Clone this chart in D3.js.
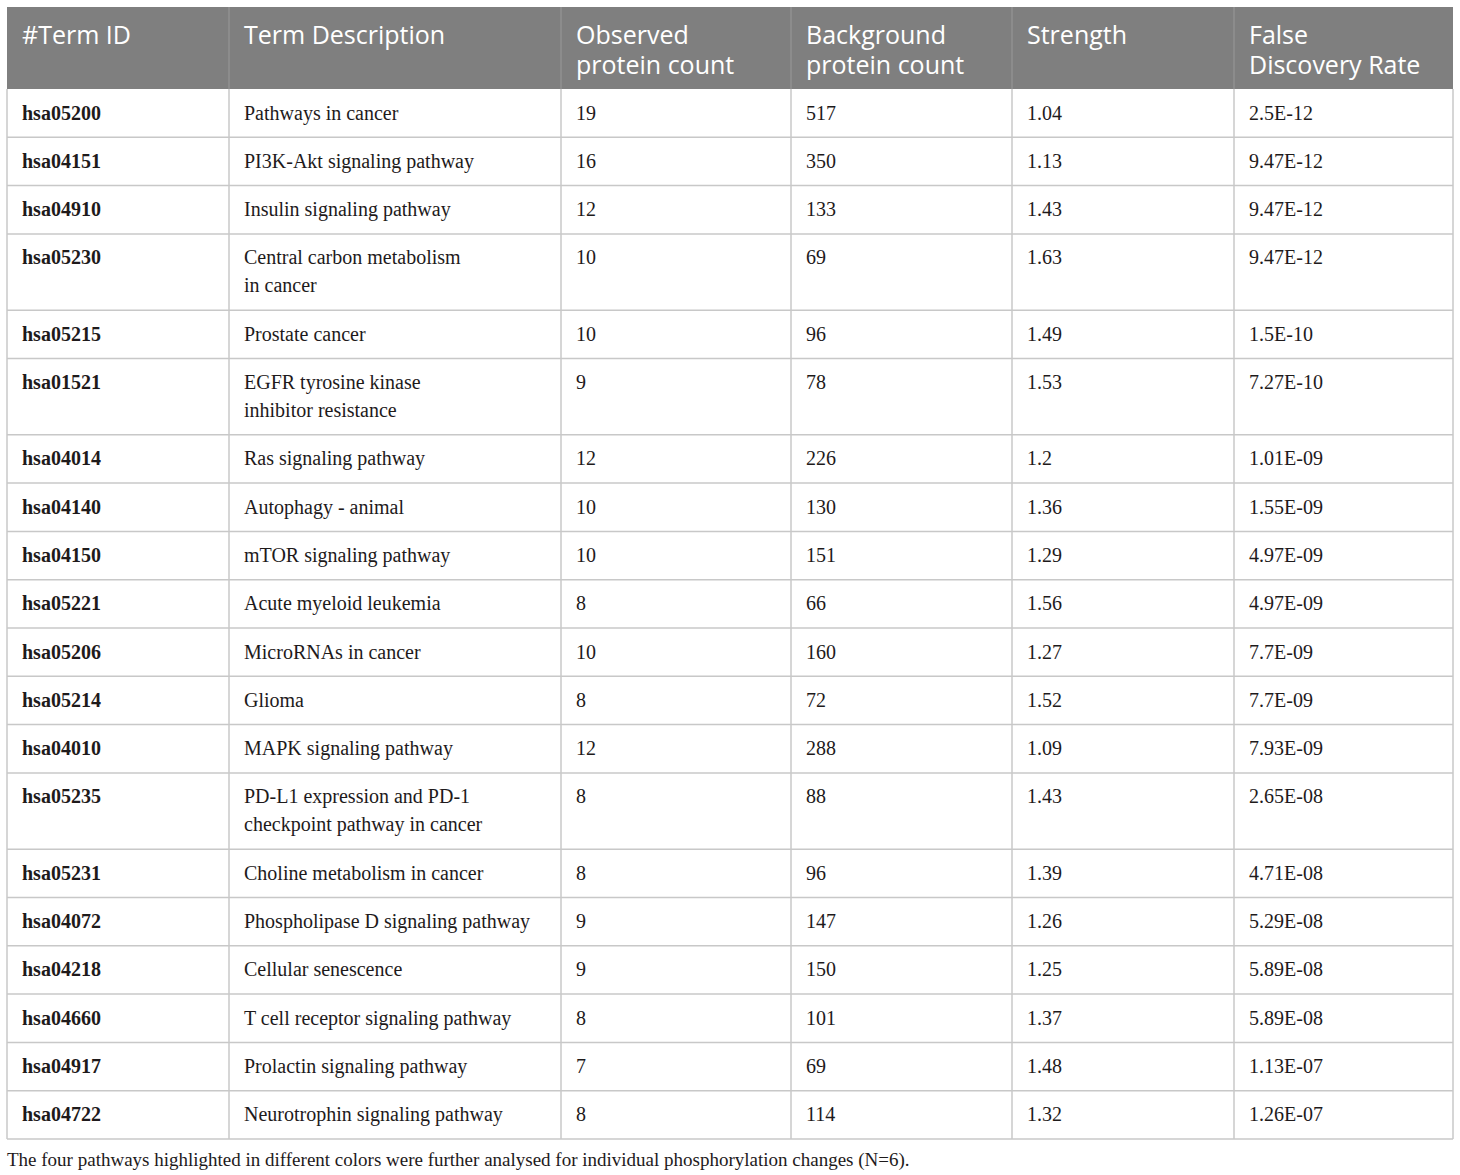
<!DOCTYPE html>
<html>
<head>
<meta charset="utf-8">
<script src="https://cdn.jsdelivr.net/npm/d3@7"></script>
<style>
  body { margin: 0; background: #fff; }
</style>
</head>
<body>
<div id="chart"></div>
<script>
/* table contents */
var headers = [
    ["#Term ID"],
    ["Term Description"],
    ["Observed", "protein count"],
    ["Background", "protein count"],
    ["Strength"],
    ["False", "Discovery Rate"]
];
var termIds = ["hsa05200","hsa04151","hsa04910","hsa05230","hsa05215","hsa01521","hsa04014","hsa04140","hsa04150","hsa05221",
               "hsa05206","hsa05214","hsa04010","hsa05235","hsa05231","hsa04072","hsa04218","hsa04660","hsa04917","hsa04722"];
var descriptions = [
    ["Pathways in cancer"],
    ["PI3K-Akt signaling pathway"],
    ["Insulin signaling pathway"],
    ["Central carbon metabolism", "in cancer"],
    ["Prostate cancer"],
    ["EGFR tyrosine kinase", "inhibitor resistance"],
    ["Ras signaling pathway"],
    ["Autophagy - animal"],
    ["mTOR signaling pathway"],
    ["Acute myeloid leukemia"],
    ["MicroRNAs in cancer"],
    ["Glioma"],
    ["MAPK signaling pathway"],
    ["PD-L1 expression and PD-1", "checkpoint pathway in cancer"],
    ["Choline metabolism in cancer"],
    ["Phospholipase D signaling pathway"],
    ["Cellular senescence"],
    ["T cell receptor signaling pathway"],
    ["Prolactin signaling pathway"],
    ["Neurotrophin signaling pathway"]
];
var observed = [19,16,12,10,10,9,12,10,10,8,10,8,12,8,8,9,9,8,7,8];
var background = [517,350,133,69,96,78,226,130,151,66,160,72,288,88,96,147,150,101,69,114];
var strength = ["1.04","1.13","1.43","1.63","1.49","1.53","1.2","1.36","1.29","1.56",
                "1.27","1.52","1.09","1.43","1.39","1.26","1.25","1.37","1.48","1.32"];
var fdr = ["2.5E-12","9.47E-12","9.47E-12","9.47E-12","1.5E-10","7.27E-10","1.01E-09","1.55E-09","4.97E-09","4.97E-09",
           "7.7E-09","7.7E-09","7.93E-09","2.65E-08","4.71E-08","5.29E-08","5.89E-08","5.89E-08","1.13E-07","1.26E-07"];
var caption = "The four pathways highlighted in different colors were further analysed for individual phosphorylation changes (N=6).";

/* layout */
var width = 1460, height = 1175;
var colEdges = [7, 229, 561, 791, 1012, 1234, 1453];
var tableTop = 7, headerHeight = 82;
var lineHeight = 28, rowPad = 20.3;
var padX = 15;
var serif = "'Liberation Serif', 'Times New Roman', serif";

var svg = d3.select("#chart")
    .append("svg")
    .attr("width", width)
    .attr("height", height);

/* build rows */
var rows = termIds.map(function (id, i) {
    return {
        id: id,
        cells: [[id], descriptions[i], [String(observed[i])], [String(background[i])], [strength[i]], [fdr[i]]],
        lines: descriptions[i].length
    };
});

var rowHeights = rows.map(function (r) { return rowPad + lineHeight * r.lines; });
var rowTops = [0].concat(Array.from(d3.cumsum(rowHeights)));
var bodyTop = tableTop + headerHeight;
var tableBottom = bodyTop + rowTops[rows.length];

var y = d3.scaleLinear().domain([0, rowTops[rows.length]]).range([bodyTop, tableBottom]);

/* header */
var head = svg.append("g").attr("class", "header");
head.append("rect")
    .attr("x", colEdges[0])
    .attr("y", tableTop)
    .attr("width", colEdges[colEdges.length - 1] - colEdges[0])
    .attr("height", headerHeight)
    .attr("fill", "#7f7f7f");

/* one text per header line */
headers.forEach(function (lines, i) {
    head.selectAll("text.h" + i)
        .data(lines)
        .enter().append("text")
        .attr("class", "h" + i)
        .attr("x", colEdges[i] + padX)
        .attr("y", function (t, j) { return tableTop + 26.5 + j * 30; })
        .attr("dominant-baseline", "central")
        .attr("font-family", "'Open Sans', sans-serif")
        .attr("font-size", 25)
        .attr("fill", "#fff")
        .text(function (t) { return t; });
});

/* body rows */
var body = svg.append("g").attr("class", "body");
var rowG = body.selectAll("g.row")
    .data(rows)
    .enter().append("g")
    .attr("class", "row");

rowG.each(function (r, ri) {
    var g = d3.select(this);
    r.cells.forEach(function (lines, ci) {
        var t = g.append("text")
            .attr("font-family", serif)
            .attr("font-size", 20)
            .attr("font-weight", ci === 0 ? "bold" : "normal")
            .attr("fill", "#1e1a1b");
        t.selectAll("tspan")
            .data(lines)
            .enter().append("tspan")
            .attr("x", colEdges[ci] + padX)
            .attr("y", function (l, j) { return y(rowTops[ri]) + 23.5 + j * lineHeight; })
            .attr("dominant-baseline", "central")
            .text(function (l) { return l; });
    });
});

/* grid lines */
var grid = svg.append("g").attr("class", "grid");
grid.selectAll("line.h")
    .data(rowTops.slice(1))
    .enter().append("line")
    .attr("x1", colEdges[0])
    .attr("x2", colEdges[colEdges.length - 1])
    .attr("y1", function (d) { return y(d); })
    .attr("y2", function (d) { return y(d); })
    .attr("stroke", "#c8c8c8")
    .attr("stroke-width", 1.5);

grid.selectAll("line.v")
    .data(colEdges)
    .enter().append("line")
    .attr("x1", function (d) { return d; })
    .attr("x2", function (d) { return d; })
    .attr("y1", bodyTop)
    .attr("y2", tableBottom)
    .attr("stroke", "#c8c8c8")
    .attr("stroke-width", 1.5);

/* thin separators inside the header */
head.selectAll("line")
    .data(colEdges.slice(1, -1))
    .enter().append("line")
    .attr("x1", function (d) { return d; })
    .attr("x2", function (d) { return d; })
    .attr("y1", tableTop)
    .attr("y2", bodyTop)
    .attr("stroke", "#9a9a9a")
    .attr("stroke-width", 1);

/* caption */
svg.append("text")
    .attr("x", colEdges[0])
    .attr("y", tableBottom + 20)
    .attr("dominant-baseline", "central")
    .attr("font-family", serif)
    .attr("font-size", 19)
    .attr("fill", "#1e1a1b")
    .text(caption);
</script>
</body>
</html>
